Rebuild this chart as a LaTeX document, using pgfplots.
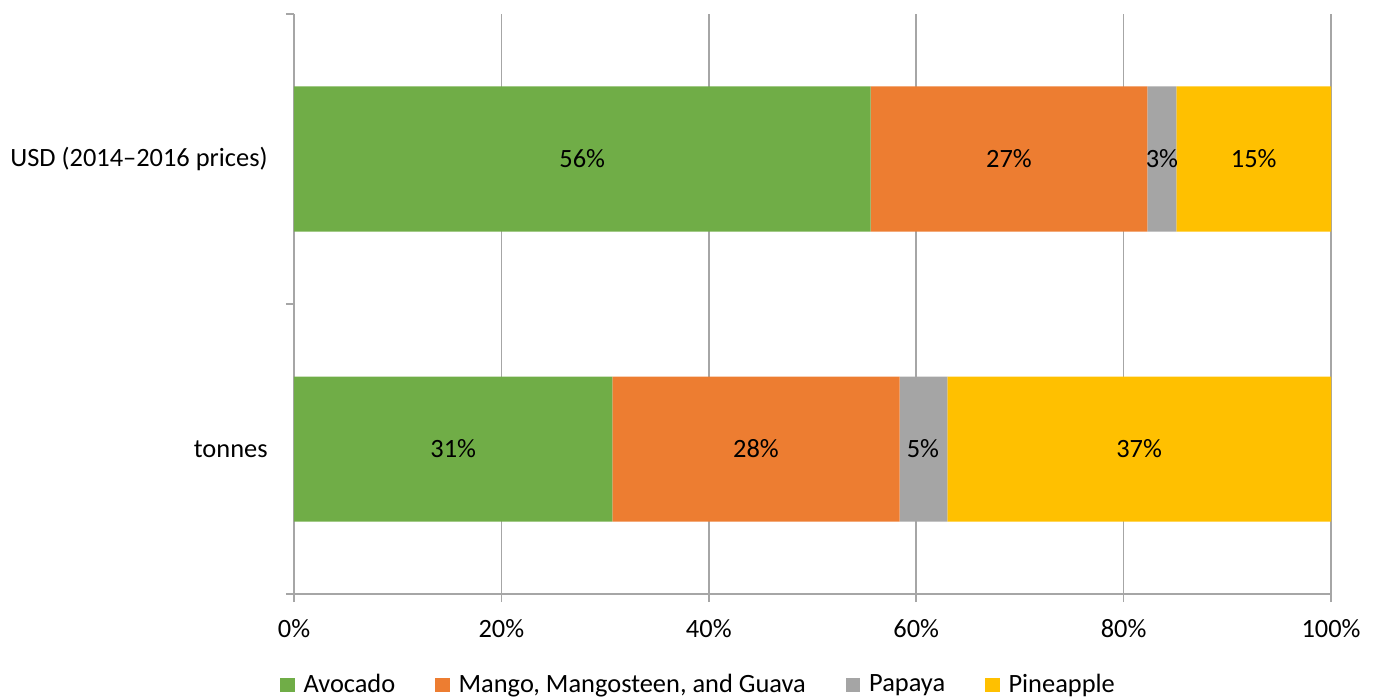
\documentclass[border=0pt]{standalone}
\usepackage{pgfplots}
\pgfplotsset{compat=1.18}
\usepackage{fontspec}
\setmainfont{Carlito}
\definecolor{cAvo}{HTML}{70AD47}
\definecolor{cMango}{HTML}{ED7D31}
\definecolor{cPap}{HTML}{A5A5A5}
\definecolor{cPine}{HTML}{FFC000}
\definecolor{cAxis}{HTML}{A6A6A6}
\begin{document}
\fontsize{13.2}{15.8}\selectfont
\begin{tikzpicture}
\begin{axis}[
  scale only axis,
  width=518.5pt, height=290pt,
  xbar stacked,
  bar width=72.5pt,
  xmin=0, xmax=100,
  ymin=-0.5, ymax=1.5,
  axis x line*=bottom, axis y line*=left,
  axis line style={cAxis, line width=0.8pt},
  xtick={0,20,40,60,80,100},
  xticklabels={0\%,20\%,40\%,60\%,80\%,100\%},
  xmajorgrids,
  grid style={cAxis, line width=0.8pt},
  tick align=outside,
  major tick length=4pt,
  tick style={cAxis, line width=0.8pt},
  ytick={-0.5,0.5,1.5},
  yticklabels={},
  extra y ticks={0,1},
  extra y tick labels={tonnes, USD (2014–2016 prices)},
  extra y tick style={major tick length=0pt, ymajorgrids=false, yticklabel style={xshift=-8.6pt}},
  xticklabel style={yshift=-4pt},
  legend columns=4,
  legend style={draw=none, fill=none, at={(0.391,-0.157)}, anchor=center,
    /tikz/every odd column/.append style={column sep=2.5pt},
    /tikz/every even column/.append style={column sep=18pt}},
  legend image code/.code={\fill[#1,draw=none] (0pt,-3.6pt) rectangle (7.2pt,3.6pt);},
]
% values in percent of total
\addplot[fill=cAvo, draw=none] coordinates {(30.7,0) (55.6,1)};
\addplot[fill=cMango, draw=none] coordinates {(27.7,0) (26.7,1)};
\addplot[fill=cPap, draw=none] coordinates {(4.6,0) (2.8,1)};
\addplot[fill=cPine, draw=none] coordinates {(37.0,0) (14.9,1)};
\legend{Avocado, {Mango, Mangosteen, and Guava}, Papaya, Pineapple}
\end{axis}
% data labels at segment centres
\begin{axis}[
  scale only axis,
  width=518.5pt, height=290pt,
  xmin=0, xmax=100,
  ymin=-0.5, ymax=1.5,
  hide axis,
]
\addplot[only marks, mark=none, point meta=explicit symbolic,
  nodes near coords, nodes near coords align=center,
  every node near coord/.append style={anchor=center, text=black}]
  coordinates {
  (15.35,0) [31\%] (44.55,0) [28\%] (60.65,0) [5\%] (81.5,0) [37\%]
  (27.8,1) [56\%] (68.95,1) [27\%] (83.7,1) [3\%] (92.55,1) [15\%]
  };
\end{axis}
\pgfresetboundingbox
\path[use as bounding box] ([xshift=-147pt,yshift=-51.5pt]current axis.south west) rectangle ++(688pt,348.5pt);
\end{tikzpicture}
\end{document}
